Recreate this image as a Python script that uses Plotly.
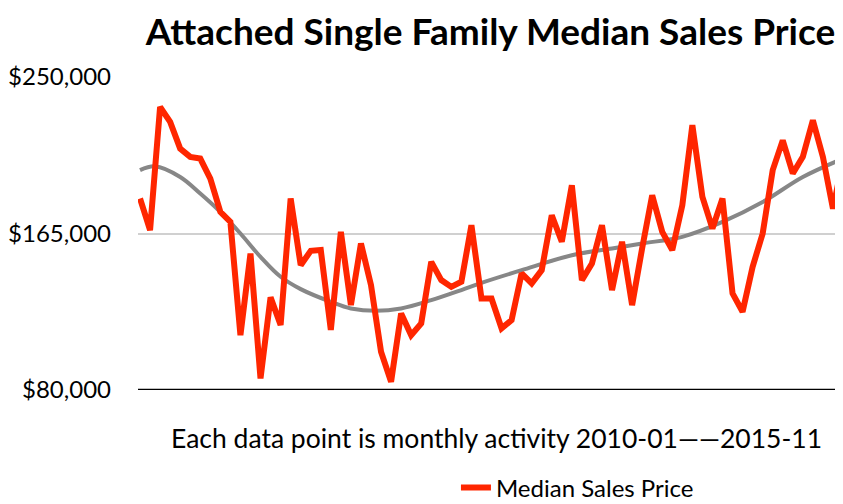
import pandas as pd
import plotly.graph_objects as go

# ── Data ──────────────────────────────────────────────────────
months = pd.date_range("2010-01-01", "2015-11-01", freq="MS").strftime("%Y-%m").tolist()
month_idx = list(range(len(months)))

median_price = [
    184000, 166800, 233700, 225600, 211100, 206600, 205700, 194800, 176700, 171300,
    109800, 154100, 86300, 130300, 115300, 184000, 147800, 155600, 156000, 112600,
    165900, 126100, 159600, 137000, 100800, 84500, 121600, 109800, 116200, 149600,
    139700, 136000, 138800, 169500, 129700, 129700, 113500, 118000, 143300, 137900,
    145100, 174900, 160500, 191200, 139700, 148700, 169500, 134300, 160500, 126100,
    157000, 185800, 165900, 156000, 180400, 223800, 184900, 167700, 184000, 132500,
    122500, 146900, 165000, 199400, 215600, 197600, 206600, 226500, 206600, 178500,
    204800,
]

# Trend line at month positions
trend_idx = [0, 1.5, 4, 6, 8, 10, 12, 14, 16, 19, 21, 23.5, 26, 29, 32, 34,
             38, 43, 47, 50, 54, 58, 62, 66, 70]
trend_val = [199400, 201500, 195700, 186700, 176700, 165000, 152300, 141500, 134800,
             127900, 124300, 123000, 124300, 128800, 134300, 138200,
             145100, 153200, 156900, 159600, 163200, 171300, 182100, 195700, 205700]

y_ticks = [80000, 165000, 250000]
y_tick_text = ["$80,000", "$165,000", "$250,000"]

RED = "#ff2600"
GREY = "#878787"
FONT = "Lato"

fig = go.Figure()

fig.add_trace(go.Scatter(
    x=trend_idx,
    y=trend_val,
    mode="lines",
    line=dict(color=GREY, width=4, shape="spline", smoothing=1.0),
    showlegend=False,
    hoverinfo="skip",
))

fig.add_trace(go.Scatter(
    x=month_idx,
    y=median_price,
    mode="lines",
    name="Median Sales Price",
    line=dict(color=RED, width=6),
    customdata=months,
    hovertemplate="%{customdata}<br>$%{y:,.0f}<extra></extra>",
))

# page body has an 8px margin, so the figure is sized to fit the window
fig.update_layout(
    width=835,
    height=496,
    margin=dict(l=130, r=0, t=69, b=114, autoexpand=False),
    paper_bgcolor="white",
    plot_bgcolor="white",
    font=dict(family=FONT, color="black", size=20),
    title=dict(
        text="<b>Attached Single Family Median Sales Price</b>",
        font=dict(family=FONT, size=37, color="black"),
        x=0.5,
        xref="paper",
        xanchor="center",
        y=0.951,
        yref="container",
        yanchor="middle",
    ),
    xaxis=dict(
        range=[-0.2, 70],
        showgrid=False,
        showticklabels=False,
        zeroline=False,
        showline=False,
        fixedrange=True,
    ),
    yaxis=dict(
        range=[80000, 250000],
        tickvals=y_ticks,
        ticktext=y_tick_text,
        tickfont=dict(family=FONT, size=24, color="black"),
        showgrid=True,
        gridcolor="#d0d0d0",
        gridwidth=1.5,
        zeroline=False,
        showline=False,
        ticks="",
        ticklabelstandoff=26,
        automargin=False,
        fixedrange=True,
    ),
    showlegend=True,
    legend=dict(
        orientation="h",
        x=0.451,
        xanchor="left",
        y=-0.313,
        yanchor="middle",
        font=dict(family=FONT, size=24, color="black"),
        itemwidth=30,
    ),
)

# baseline at $80,000
fig.add_shape(
    type="line", xref="paper", yref="y",
    x0=0, x1=1, y0=80000, y1=80000,
    line=dict(color="black", width=2.5),
)

fig.add_annotation(
    text="Each data point is monthly activity 2010-01\u2014\u20142015-11",
    xref="paper", yref="paper",
    x=0.509, y=-0.153,
    xanchor="center", yanchor="middle",
    showarrow=False,
    font=dict(family=FONT, size=26.5, color="black"),
)

fig.write_html("out.html")
